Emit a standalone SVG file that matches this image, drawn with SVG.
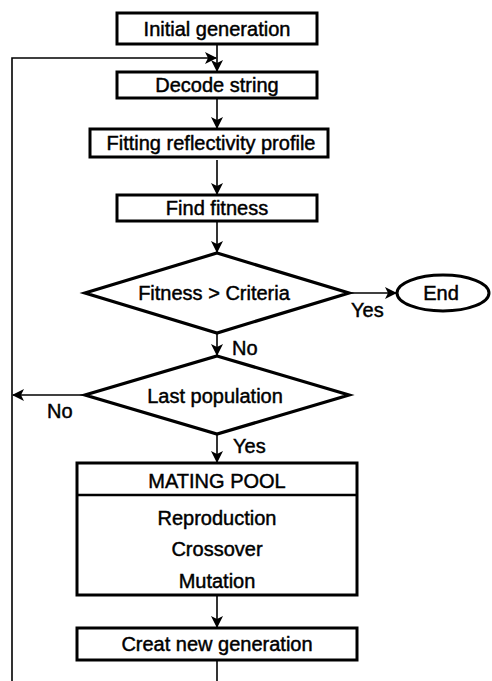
<svg xmlns="http://www.w3.org/2000/svg" width="492" height="681" viewBox="0 0 492 681">
<defs>
<marker id="ah" viewBox="0 0 12 12" refX="11" refY="6" markerWidth="12" markerHeight="12" markerUnits="userSpaceOnUse" orient="auto">
<path d="M0,0 L12,6 L0,12 L3,6 z" fill="#000"/>
</marker>
<style>
.box{fill:#fff;stroke:#000;stroke-width:3}
.dia{fill:#fff;stroke:#000;stroke-width:3.2;stroke-linejoin:miter}
.t{font-family:"Liberation Sans",Arial,sans-serif;font-size:20px;fill:#000;stroke:#000;stroke-width:0.45;text-anchor:middle}
.l{font-family:"Liberation Sans",Arial,sans-serif;font-size:20px;fill:#000;stroke:#000;stroke-width:0.45}
.c{fill:none;stroke:#000;stroke-width:1.6}
</style>
</defs>
<rect width="492" height="681" fill="#fff"/>
<g id="connectors">
<line class="c" x1="217" y1="44" x2="217" y2="71" marker-end="url(#ah)"/>
<polyline class="c" points="12,681 12,58 216,58" marker-end="url(#ah)"/>
<line class="c" x1="217" y1="98" x2="217" y2="128" marker-end="url(#ah)"/>
<line class="c" x1="217" y1="160" x2="217" y2="194" marker-end="url(#ah)"/>
<line class="c" x1="217" y1="221" x2="217" y2="252" marker-end="url(#ah)"/>
<line class="c" x1="349" y1="293" x2="396" y2="293" marker-end="url(#ah)"/>
<line class="c" x1="217" y1="333" x2="217" y2="355" marker-end="url(#ah)"/>
<line class="c" x1="85" y1="395" x2="13" y2="395" marker-end="url(#ah)"/>
<line class="c" x1="217" y1="434" x2="217" y2="462" marker-end="url(#ah)"/>
<line class="c" x1="217" y1="595" x2="217" y2="627" marker-end="url(#ah)"/>
<line class="c" x1="217" y1="660" x2="217" y2="681"/>
<text class="l" x="351" y="317">Yes</text>
<text class="l" x="232" y="355">No</text>
<text class="l" x="47" y="418">No</text>
<text class="l" x="233" y="453">Yes</text>
</g>
<g id="initial">
<rect class="box" x="117" y="13" width="200" height="31"/>
<text class="t" x="217" y="36">Initial generation</text>
</g>
<g id="decode">
<rect class="box" x="117" y="72" width="200" height="26"/>
<text class="t" x="217" y="92">Decode string</text>
</g>
<g id="fitting">
<rect class="box" x="90" y="129" width="238" height="28"/>
<text class="t" x="211" y="150">Fitting reflectivity profile</text>
</g>
<g id="findfitness">
<rect class="box" x="117" y="195" width="200" height="26"/>
<text class="t" x="217" y="215">Find fitness</text>
</g>
<g id="criteria">
<polygon class="dia" points="217,253 349,293 217,333 85,293"/>
<text class="t" x="214" y="300">Fitness &gt; Criteria</text>
</g>
<g id="end">
<ellipse cx="443" cy="293" rx="46" ry="18" fill="#fff" stroke="#000" stroke-width="3"/>
<text class="t" x="441" y="300">End</text>
</g>
<g id="lastpop">
<polygon class="dia" points="217,356 349,395 217,434 85,395"/>
<text class="t" x="215" y="403">Last population</text>
</g>
<g id="matingpool">
<rect class="box" x="77" y="463" width="280" height="132"/>
<line x1="77" y1="495" x2="357" y2="495" stroke="#000" stroke-width="2.5"/>
<text class="t" x="217" y="488">MATING POOL</text>
<text class="t" x="217" y="525">Reproduction</text>
<text class="t" x="217" y="556">Crossover</text>
<text class="t" x="217" y="588">Mutation</text>
</g>
<g id="creatnew">
<rect class="box" x="77" y="628" width="280" height="32"/>
<text class="t" x="217" y="651">Creat new generation</text>
</g>
</svg>
